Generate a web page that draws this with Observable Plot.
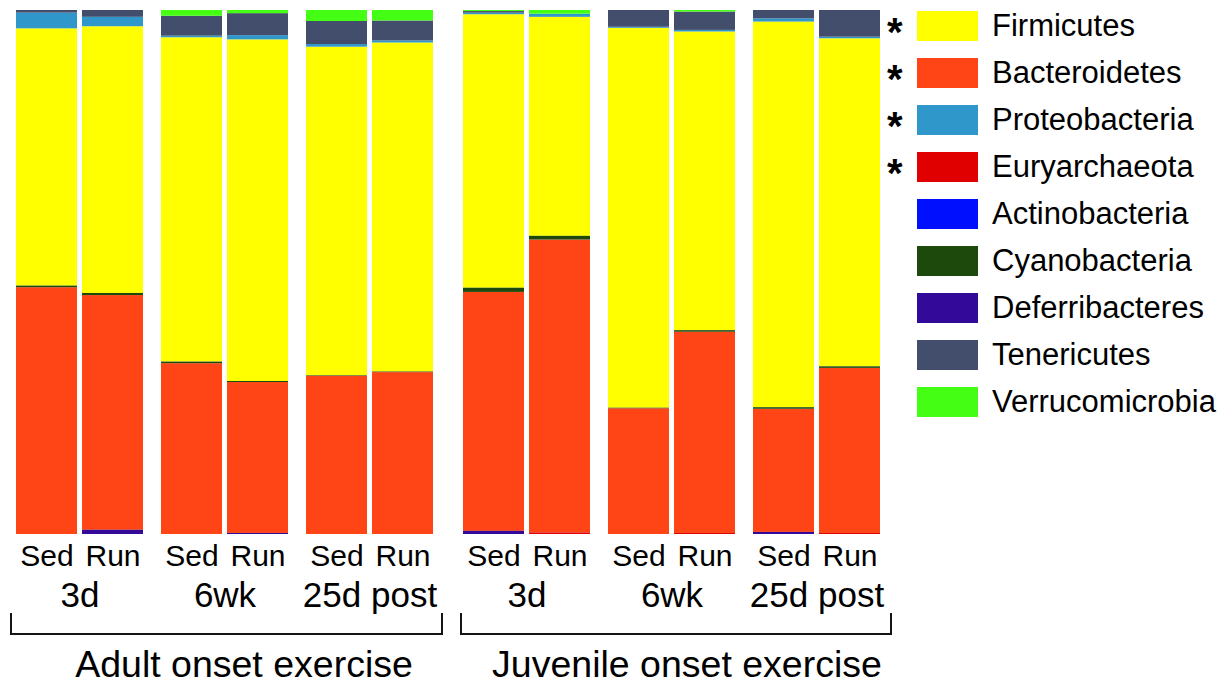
<!DOCTYPE html>
<html>
<head>
<meta charset="utf-8">
<script src="https://cdn.jsdelivr.net/npm/d3@7"></script>
<script src="https://cdn.jsdelivr.net/npm/@observablehq/plot@0.6"></script>
<style>
  body { margin: 0; background: #fff; font-family: "Liberation Sans", Arial, Helvetica, sans-serif; color: #000; }
  #page { position: relative; width: 1225px; height: 684px; overflow: hidden; background: #fff; }
  .panel { position: absolute; top: 0; }
  .panel svg { max-width: none; overflow: visible; }
  .bracket { position: absolute; top: 613px; height: 20px; border: 2.5px solid #151515; border-top: none; }
  .cohort { position: absolute; top: 646px; font-size: 37.5px; line-height: 37px; white-space: nowrap; transform: translateX(-50%); }
  .star { position: absolute; left: 887px; font-size: 40px; line-height: 40px; font-weight: bold; }
  .swatch { position: absolute; left: 917px; width: 61px; height: 30px; }
  .ltext { position: absolute; left: 992px; font-size: 31px; line-height: 30px; white-space: nowrap; }
</style>
</head>
<body>
<div id="page"></div>
<script>
// ---- data (percent relative abundance) ----
const cohorts = ["Adult onset exercise", "Juvenile onset exercise"];
const timepoints = ["3d", "6wk", "25d post"];
const conditions = ["Sed", "Run"];

const phyla = ["Firmicutes", "Bacteroidetes", "Proteobacteria", "Euryarchaeota", "Actinobacteria",
               "Cyanobacteria", "Deferribacteres", "Tenericutes", "Verrucomicrobia"];
const phylumColors = ["#ffff00", "#ff4515", "#2f97c9", "#e00000", "#0010ff",
                      "#1d4a0c", "#33099a", "#434e6c", "#44ff14"];
const significant = [true, true, true, true, false, false, false, false, false];
const stackOrder = ["Deferribacteres", "Actinobacteria", "Euryarchaeota", "Bacteroidetes",
                    "Cyanobacteria", "Firmicutes", "Proteobacteria", "Tenericutes", "Verrucomicrobia"];

// bar order: Adult 3d Sed, 3d Run, 6wk Sed, 6wk Run, 25d Sed, 25d Run, then Juvenile same
const firmicutes      = [49.1, 50.9, 61.9, 65.2, 62.7, 62.8, 52.2, 41.8, 72.5, 57.0, 73.6, 62.6];
const bacteroidetes   = [47.1, 44.8, 32.6, 28.8, 30.2, 30.9, 45.6, 55.9, 24.0, 38.4, 23.5, 31.5];
const proteobacteria  = [3.0, 1.8, 0.3, 0.8, 0.5, 0.4, 0.3, 0.6, 0.2, 0.3, 0.6, 0.3];
const euryarchaeota   = [0, 0, 0, 0, 0, 0, 0, 0.3, 0, 0.2, 0, 0.2];
const actinobacteria  = [0, 0, 0, 0, 0, 0, 0, 0, 0, 0, 0, 0];
const cyanobacteria   = [0.3, 0.4, 0.3, 0.2, 0.1, 0.1, 0.8, 0.7, 0.1, 0.3, 0.3, 0.3];
const deferribacteres = [0, 0.8, 0, 0.2, 0, 0, 0.6, 0, 0, 0, 0.4, 0];
const tenericutes     = [0.5, 1.3, 3.8, 4.2, 4.4, 3.8, 0.3, 0, 3.2, 3.5, 1.6, 5.1];
const verrucomicrobia = [0, 0, 1.1, 0.6, 2.1, 2.0, 0.2, 0.7, 0, 0.3, 0, 0];

const seriesValues = [firmicutes, bacteroidetes, proteobacteria, euryarchaeota, actinobacteria,
                      cyanobacteria, deferribacteres, tenericutes, verrucomicrobia];

// ---- build tidy table ----
const rows = [];
phyla.forEach((p, pi) => {
  seriesValues[pi].forEach((v, i) => {
    rows.push({
      cohort: cohorts[Math.floor(i / 6)],
      time: timepoints[Math.floor((i % 6) / 2)],
      cond: conditions[i % 2],
      phylum: p,
      value: v
    });
  });
});

const page = document.getElementById("page");
const layout = [
  {left: 5, width: 438, bracketLeft: 10, bracketWidth: 429, labelX: 244},
  {left: 453, width: 437, bracketLeft: 460, bracketWidth: 428, labelX: 687}
];

cohorts.forEach((c, ci) => {
  const L = layout[ci];
  const chart = Plot.plot({
    width: L.width,
    height: 614,
    marginTop: 10,
    marginBottom: 80,
    marginLeft: 10,
    marginRight: 10,
    style: {fontFamily: "'Liberation Sans', Arial, Helvetica, sans-serif", color: "#000", background: "transparent", overflow: "visible"},
    fx: {domain: timepoints, paddingInner: 0.127, paddingOuter: 0, label: null},
    x: {domain: conditions, paddingInner: 0.076, paddingOuter: 0, label: null},
    y: {domain: [0, 100], axis: null},
    color: {domain: phyla, range: phylumColors},
    marks: [
      Plot.barY(rows.filter(d => d.cohort === c), Plot.stackY({
        order: stackOrder,
        x: "cond",
        fx: "time",
        y: "value",
        fill: "phylum"
      })),
      Plot.axisX({anchor: "bottom", tickSize: 0, tickPadding: 10, fontSize: 30, label: null}),
      Plot.axisFx({anchor: "bottom", tickSize: 0, tickPadding: 48, fontSize: 35, label: null})
    ]
  });
  const div = document.createElement("div");
  div.className = "panel";
  div.style.left = L.left + "px";
  div.style.width = L.width + "px";
  div.appendChild(chart);
  page.appendChild(div);

  const br = document.createElement("div");
  br.className = "bracket";
  br.style.left = L.bracketLeft + "px";
  br.style.width = L.bracketWidth + "px";
  page.appendChild(br);

  const lab = document.createElement("div");
  lab.className = "cohort";
  lab.style.left = L.labelX + "px";
  lab.textContent = c;
  page.appendChild(lab);
});

// ---- legend ----
phyla.forEach((p, i) => {
  const cy = 26 + i * 47;
  if (significant[i]) {
    const s = document.createElement("div");
    s.className = "star";
    s.style.top = (cy - 14) + "px";
    s.textContent = "*";
    page.appendChild(s);
  }
  const sw = document.createElement("div");
  sw.className = "swatch";
  sw.style.top = (cy - 15) + "px";
  sw.style.background = phylumColors[i];
  page.appendChild(sw);
  const t = document.createElement("div");
  t.className = "ltext";
  t.style.top = (cy - 15) + "px";
  t.textContent = p;
  page.appendChild(t);
});
</script>
</body>
</html>
